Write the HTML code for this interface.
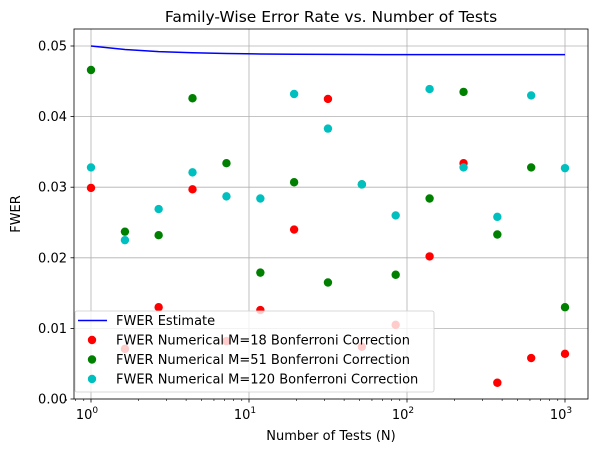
<!DOCTYPE html>
<html><head><meta charset="utf-8"><style>
body{margin:0;background:#fff;}
svg text{font-family:"DejaVu Sans","Liberation Sans",sans-serif;fill:#000;}
</style></head><body>
<svg id="chart" width="597" height="453" xmlns="http://www.w3.org/2000/svg">
<g id="grid"></g>
<g id="axes"></g>
<g id="marks"></g>
<text x="331" y="22" font-size="15.5" text-anchor="middle">Family-Wise Error Rate vs. Number of Tests</text>
<text x="331" y="440" font-size="13" text-anchor="middle">Number of Tests (N)</text>
<text transform="translate(20,214) rotate(-90)" font-size="13" text-anchor="middle">FWER</text>
<g id="legend"></g>
</svg>
<script>
const nTests=[1,1.64,2.68,4.39,7.2,11.8,19.3,31.6,51.8,84.8,139,228,373,611,1000];
const estimate=[0.05,0.0495,0.04921,0.04904,0.04894,0.04887,0.04883,0.04881,0.04879,0.04878,0.04878,0.04877,0.04877,0.04877,0.04877];
const redVals=[0.0299,0.0071,0.0130,0.0297,0.0082,0.0126,0.0240,0.0425,0.0074,0.0105,0.0202,0.0334,0.0023,0.0058,0.0064];
const greenVals=[0.0466,0.0237,0.0232,0.0426,0.0334,0.0179,0.0307,0.0165,0.0304,0.0176,0.0284,0.0435,0.0233,0.0328,0.0130];
const cyanVals=[0.0328,0.0225,0.0269,0.0321,0.0287,0.0284,0.0432,0.0383,0.0304,0.0260,0.0439,0.0328,0.0258,0.0430,0.0327];
const yTicks=[0,0.01,0.02,0.03,0.04,0.05];
const yTickLabels=["0.00","0.01","0.02","0.03","0.04","0.05"];
const xTicks=[1,10,100,1000];
const xTickExp=["0","1","2","3"];
const L=74,R=588,T=29,B=399;
const xs=v=>91+Math.log10(v)*158;
const ys=v=>399-v*7060;
const NS="http://www.w3.org/2000/svg";
function mk(tag,attrs,parent){const e=document.createElementNS(NS,tag);for(const k in attrs)e.setAttribute(k,attrs[k]);parent.appendChild(e);return e;}
const grid=document.getElementById('grid'),axes=document.getElementById('axes'),marks=document.getElementById('marks'),leg=document.getElementById('legend');
xTicks.forEach((t,i)=>{const x=xs(t);
 const g=mk('line',{x1:x,x2:x,y1:T,y2:B,stroke:'#b0b0b0','stroke-width':0.8},grid);
 
 mk('line',{x1:x,x2:x,y1:B,y2:B+3.5,stroke:'#000','stroke-width':0.8},axes);
 const tx=mk('text',{x:x-4,y:B+20,'font-size':13,'text-anchor':'middle'},axes);
 
 tx.textContent='10';const s=mk('tspan',{dy:-6,'font-size':9},tx);s.textContent=xTickExp[i];
});
for(let d=0;d<4;d++)for(let m=2;m<10;m++){const v=m*Math.pow(10,d-1);if(v<0.7||v>1400)continue;const x=xs(v);mk('line',{x1:x,x2:x,y1:B,y2:B+2,stroke:'#000','stroke-width':0.6},axes);}
yTicks.forEach((t,i)=>{const y=ys(t);
 const g=mk('line',{x1:L,x2:R,y1:y,y2:y,stroke:'#b0b0b0','stroke-width':0.8},grid);
 
 mk('line',{x1:L-3.5,x2:L,y1:y,y2:y,stroke:'#000','stroke-width':0.8},axes);
 const tx=mk('text',{x:L-7,y:y+4.5,'font-size':13,'text-anchor':'end'},axes);
 
 tx.textContent=yTickLabels[i];
});
const fr=mk('rect',{x:L,y:T,width:R-L,height:B-T,fill:'none',stroke:'#000','stroke-width':0.8},axes);

const line=mk('polyline',{points:nTests.map((n,i)=>xs(n)+','+ys(estimate[i])).join(' '),fill:'none',stroke:'#0000ff','stroke-width':1.5},marks);

[[redVals,'#ff0000','red'],[greenVals,'#008000','green'],[cyanVals,'#00bfbf','cyan']].forEach(([vals,c,nm])=>{
 vals.forEach((v,i)=>{const p=mk('circle',{cx:xs(nTests[i]),cy:ys(v),r:4.2,fill:c},marks);
 });
});
const box=mk('rect',{x:75,y:311,width:359,height:81,rx:2,fill:'#fff','fill-opacity':0.8,stroke:'#ccc','stroke-width':0.8},leg);

const items=[['FWER Estimate',null],['FWER Numerical M=18 Bonferroni Correction','#ff0000'],['FWER Numerical M=51 Bonferroni Correction','#008000'],['FWER Numerical M=120 Bonferroni Correction','#00bfbf']];
items.forEach((it,i)=>{const y=320.5+i*19.5;
 if(it[1]===null){mk('line',{x1:78,x2:107,y1:y,y2:y,stroke:'#0000ff','stroke-width':1.5},leg);}
 else{mk('circle',{cx:92,cy:y,r:4.2,fill:it[1]},leg);}
 const t=mk('text',{x:116,y:y+4.5,'font-size':13},leg);
 
 t.textContent=it[0];
});
</script>
</body></html>
